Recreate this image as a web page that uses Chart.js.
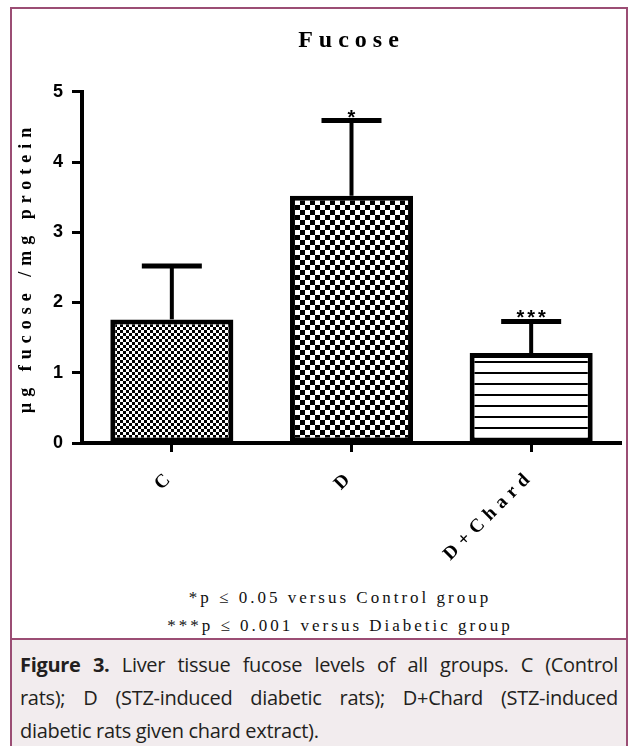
<!DOCTYPE html>
<html>
<head>
<meta charset="utf-8">
<script src="https://cdn.jsdelivr.net/npm/chart.js@4.4.1/dist/chart.umd.min.js"></script>
<style>
  body { margin: 0; background: #fff; }
  #frame { position: absolute; left: 10px; top: 7px; width: 614px; height: 760px; border: 2px solid #9b4d74; }
  #wrap { position: absolute; left: 0; top: 0; width: 637px; height: 570px; }
  .note { position: absolute; left: 40px; width: 600px; text-align: center; font-family: 'Liberation Serif', serif; font-size: 17px; letter-spacing: 3px; color: #111; }
  #caption { position: absolute; left: 12px; top: 638px; width: 598px; height: 120px; padding: 8px 8px; background: #f2ecee; border-top: 2px solid #9b4d74; font-family: 'Open Sans', sans-serif; font-size: 20px; letter-spacing: -0.3px; line-height: 33px; color: #231f20; }
  #caption div { text-align: justify; text-align-last: justify; white-space: nowrap; }
  #caption div.last { text-align-last: left; }
</style>
</head>
<body>
<div id="frame"></div>
<div id="wrap"><canvas id="myChart"></canvas></div>
<div class="note" style="top:588px">*p ≤ 0.05 versus Control group</div>
<div class="note" style="top:616px">***p ≤ 0.001 versus Diabetic group</div>
<div id="caption">
  <div><b>Figure 3.</b> Liver tissue fucose levels of all groups. C (Control</div>
  <div>rats); D (STZ-induced diabetic rats); D+Chard (STZ-induced</div>
  <div class="last">diabetic rats given chard extract).</div>
</div>
<script>
// values
const groups = ['C', 'D', 'D+Chard'];
const fucose = [1.76, 3.52, 1.28];
const fucoseSd = [0.76, 1.07, 0.45];
const stars = ['', '*', '***'];
const yTicks = [0, 1, 2, 3, 4, 5];

let myChart = document.getElementById('myChart').getContext('2d');

// fill patterns like the prism figure
function checker(cell) {
    let c = document.createElement('canvas');
    c.width = c.height = cell * 2;
    let g = c.getContext('2d');
    g.fillStyle = '#fff';
    g.fillRect(0, 0, cell * 2, cell * 2);
    g.fillStyle = '#000';
    g.fillRect(0, 0, cell, cell);
    g.fillRect(cell, cell, cell, cell);
    return myChart.createPattern(c, 'repeat');
}
function stripes(gap, w) {
    let c = document.createElement('canvas');
    c.width = 4; c.height = gap;
    let g = c.getContext('2d');
    g.fillStyle = '#fff';
    g.fillRect(0, 0, 4, gap);
    g.fillStyle = '#000';
    g.fillRect(0, gap - w, 4, w);
    return myChart.createPattern(c, 'repeat');
}

const spacing = {
    id: 'spacing',
    beforeUpdate(chart) { chart.ctx.letterSpacing = '6px'; },
    beforeDraw(chart) { chart.ctx.letterSpacing = '6px'; }
};

const errorBars = {
    id: 'errorBars',
    afterDatasetsDraw(chart) {
        let ctx = chart.ctx;
        let y = chart.scales.y;
        let bars = chart.getDatasetMeta(0).data;
        ctx.save();
        ctx.strokeStyle = '#000';
        ctx.fillStyle = '#000';
        bars.forEach((bar, i) => {
            let top = y.getPixelForValue(fucose[i] + fucoseSd[i]);
            ctx.lineWidth = 4;
            ctx.beginPath();
            ctx.moveTo(bar.x, bar.y);
            ctx.lineTo(bar.x, top);
            ctx.stroke();
            ctx.lineWidth = 5;
            ctx.beginPath();
            ctx.moveTo(bar.x - 30, top);
            ctx.lineTo(bar.x + 30, top);
            ctx.stroke();
            if (stars[i]) {
                ctx.font = 'bold 20px "Liberation Sans"';
                ctx.letterSpacing = '3px';
                ctx.textAlign = 'center';
                ctx.textBaseline = 'alphabetic';
                ctx.fillText(stars[i], bar.x + 1.5, top + 3);
            }
        });
        ctx.restore();
    }
};

let fucoseChart = new Chart(myChart, {
    type: 'bar',
    data: {
        labels: groups,
        datasets: [{
            data: fucose,
            backgroundColor: [checker(3), checker(5), stripes(11, 2)],
            borderColor: '#000',
            borderWidth: 5,
            borderSkipped: false,
            categoryPercentage: 1,
            barPercentage: 0.685
        }]
    },
    options: {
        responsive: true,
        maintainAspectRatio: false,
        animation: false,
        layout: { padding: { left: 0, right: 16, top: 0, bottom: 0 } },
        plugins: {
            legend: { display: false },
            tooltip: { enabled: false },
            title: {
                display: true,
                text: 'Fucose',
                fullSize: false,
                color: '#000',
                font: { family: 'Liberation Serif', size: 24, weight: 'bold' },
                padding: { top: 26, bottom: 37 }
            }
        },
        scales: {
            x: {
                offset: true,
                grid: { drawOnChartArea: false, offset: false, tickLength: 9, tickWidth: 3, color: '#000' },
                border: { display: true, width: 4, color: '#000' },
                ticks: {
                    minRotation: 45, maxRotation: 45, padding: 13, color: '#000',
                    font: { family: 'Liberation Serif', size: 19, weight: 'bold' }
                },
                afterFit: s => { s.height = 127; }
            },
            y: {
                min: 0, max: 5,
                afterBuildTicks: s => { s.ticks = yTicks.map(v => ({ value: v })); },
                grid: { drawOnChartArea: false, tickLength: 10, tickWidth: 3, color: '#000' },
                border: { display: true, width: 4, color: '#000' },
                ticks: {
                    padding: 3, color: '#000',
                    font: { family: 'Liberation Sans', size: 18, weight: 'bold' }
                },
                title: {
                    display: true,
                    text: 'µg fucose /mg protein',
                    color: '#000',
                    font: { family: 'Liberation Serif', size: 18, weight: 'bold' },
                    padding: { top: 16, bottom: 0 }
                },
                afterFit: s => { s.width = 82; }
            }
        }
    },
    plugins: [spacing, errorBars]
});
</script>
</body>
</html>
